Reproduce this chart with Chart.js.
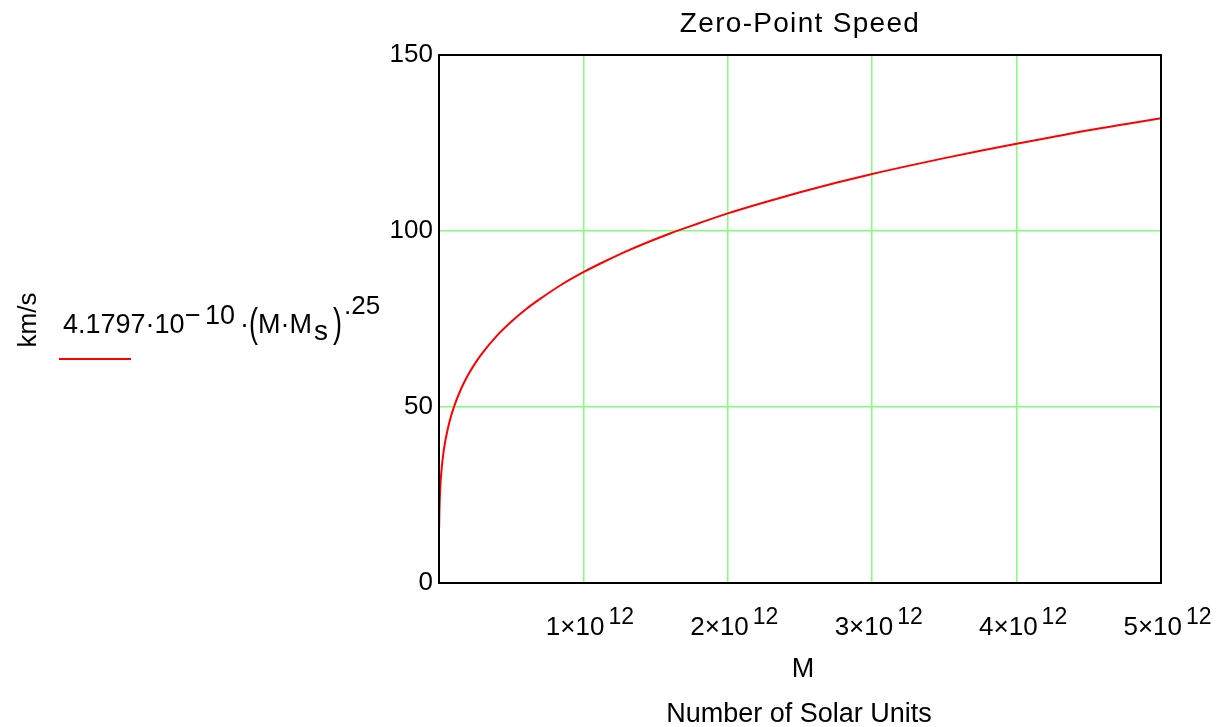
<!DOCTYPE html>
<html>
<head>
<meta charset="utf-8">
<script src="https://cdn.jsdelivr.net/npm/chart.js@4.4.1/dist/chart.umd.min.js"></script>
<style>
  body { margin: 0; background: #fff; }
</style>
</head>
<body>
<canvas id="zeroPoint" width="1218" height="727"></canvas>
<script>
// values (M in solar units, speed in km/s)
const massM = [1e9, 2e9, 3e9, 5e9, 1e10, 2e10, 3e10, 4e10, 5e10, 7e10, 1e11, 1.5e11, 2e11, 2.5e11,
  3e11, 4e11, 5e11, 6e11, 7e11, 8.5e11, 1e12, 1.15e12, 1.3e12, 1.6e12, 1.8e12, 2e12, 2.25e12,
  2.5e12, 2.75e12, 3e12, 3.25e12, 3.5e12, 3.75e12, 4e12, 4.25e12, 4.5e12, 4.75e12, 5e12];
const speedKms = [15.7, 18.7, 20.7, 23.5, 28, 33.2, 36.7, 39.5, 41.7, 45.4, 49.6, 54.9, 59, 62.4,
  65.3, 70.2, 74.2, 77.7, 80.7, 84.8, 88.3, 91.4, 94.3, 99.3, 102.2, 105, 108.1,
  111, 113.7, 116.2, 118.5, 120.7, 122.8, 124.8, 126.7, 128.6, 130.3, 132];
const xTickVals = [1e12, 2e12, 3e12, 4e12, 5e12];
const xTickMant = ["1", "2", "3", "4", "5"];
const xTickExp = "12";
const yTickVals = [0, 50, 100, 150];

const FONT = '"Liberation Sans", Arial, sans-serif';

const textPlugin = {
  id: "mathcadText",
  afterDraw(chart) {
    const ctx = chart.ctx;
    const area = chart.chartArea;
    const xs = chart.scales.x;
    ctx.save();

    // frame
    ctx.strokeStyle = "#000";
    ctx.lineWidth = 2;
    ctx.strokeRect(area.left, area.top, area.right - area.left, area.bottom - area.top);

    ctx.fillStyle = "#000";
    ctx.textBaseline = "alphabetic";

    // title
    ctx.font = "28px " + FONT;
    ctx.textAlign = "center";
    ctx.letterSpacing = "1.3px";
    ctx.fillText("Zero-Point Speed", (area.left + area.right) / 2, 32);
    ctx.letterSpacing = "0px";

    // x tick labels  N×10^12
    for (let i = 0; i < xTickVals.length; i++) {
      const px = xs.getPixelForValue(xTickVals[i]);
      ctx.font = "26px " + FONT;
      ctx.textAlign = "right";
      ctx.fillText(xTickMant[i] + "\u00D710", px + 21, 635);
      ctx.font = "23px " + FONT;
      ctx.textAlign = "left";
      ctx.fillText(xTickExp, px + 25, 624);
    }

    // x axis titles
    ctx.font = "27px " + FONT;
    ctx.textAlign = "center";
    ctx.fillText("M", 803, 677);
    ctx.fillText("Number of Solar Units", 799, 722);

    // y axis unit
    ctx.save();
    ctx.translate(36, 320);
    ctx.rotate(-Math.PI / 2);
    ctx.font = "26px " + FONT;
    ctx.textAlign = "center";
    ctx.fillText("km/s", 0, 0);
    ctx.restore();

    // legend expression
    ctx.textAlign = "left";
    ctx.font = "27px " + FONT;
    ctx.fillText("4.1797\u00B710", 63, 333);
    ctx.fillText("\u2212", 185, 324);
    ctx.fillText("10", 205, 324);
    ctx.fillText("\u00B7", 240, 333);
    ctx.save();
    ctx.translate(249, 337);
    ctx.scale(1, 1.5);
    ctx.fillText("(", 0, 0);
    ctx.restore();
    ctx.fillText("M\u00B7M", 258, 333);
    ctx.font = "28px " + FONT;
    ctx.fillText("s", 314, 340);
    ctx.save();
    ctx.font = "27px " + FONT;
    ctx.translate(333, 337);
    ctx.scale(1, 1.5);
    ctx.fillText(")", 0, 0);
    ctx.restore();
    ctx.font = "26px " + FONT;
    ctx.fillText(".25", 344, 314);

    // legend line sample
    ctx.strokeStyle = "#ff0000";
    ctx.lineWidth = 2;
    ctx.beginPath();
    ctx.moveTo(59, 359);
    ctx.lineTo(131, 359);
    ctx.stroke();

    ctx.restore();
  }
};

new Chart(document.getElementById("zeroPoint"), {
  type: "line",
  data: {
    datasets: [{
      label: "speed",
      data: massM.map((m, i) => ({ x: m, y: speedKms[i] })),
      borderColor: "#ff0000",
      borderWidth: 2,
      pointRadius: 0,
      fill: false,
      cubicInterpolationMode: "monotone"
    }]
  },
  options: {
    responsive: false,
    animation: false,
    layout: { padding: { left: 359, right: 57, top: 55, bottom: 144 } },
    plugins: {
      legend: { display: false },
      title: { display: false },
      tooltip: { enabled: false }
    },
    scales: {
      x: {
        type: "linear",
        min: 0,
        max: 5e12,
        ticks: { display: false, stepSize: 1e12 },
        grid: { color: "#80ff80", lineWidth: 1.5, drawTicks: false },
        border: { display: false },
        afterFit(scale) { scale.height = 0; }
      },
      y: {
        min: 0,
        max: 150,
        afterBuildTicks(scale) { scale.ticks = yTickVals.map(v => ({ value: v })); },
        ticks: { color: "#000", font: { family: FONT, size: 26 }, padding: 6 },
        grid: { color: "#80ff80", lineWidth: 1.5, drawTicks: false },
        border: { display: false },
        afterFit(scale) { scale.width = 80; }
      }
    }
  },
  plugins: [textPlugin]
});
</script>
</body>
</html>
